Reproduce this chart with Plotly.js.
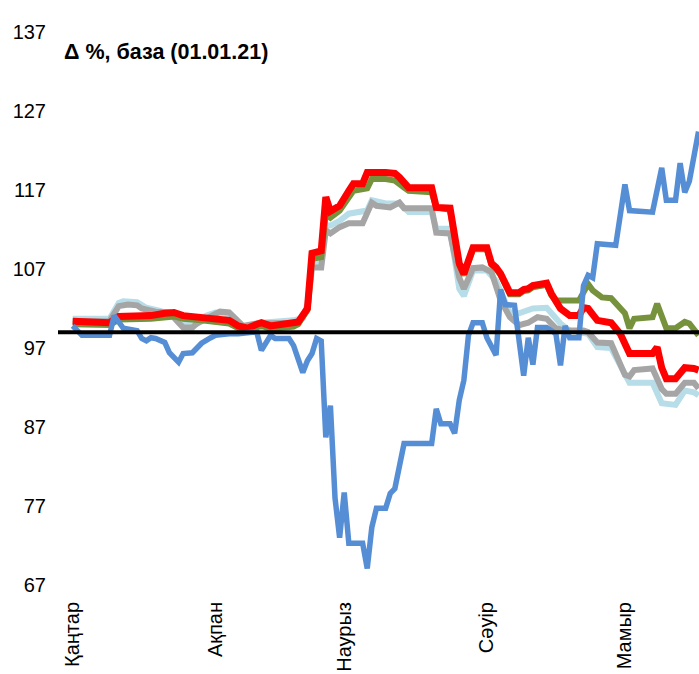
<!DOCTYPE html>
<html>
<head>
<meta charset="utf-8">
<script src="https://cdn.plot.ly/plotly-3.0.1.min.js"></script>
<style>html,body{margin:0;padding:0;background:#fff;}#chart{width:699px;height:674px;}</style>
</head>
<body>
<div id="chart"></div>
<script>
// x = days since 01.01.21
const monthTickDays = [0, 31, 59, 90, 120];
const monthLabels = ['Қаңтар', 'Ақпан', 'Наурыз', 'Сәуір', 'Мамыр'];
const baseLevel = 99;

const redDays = [0,8,10,17,20,22,24,28,34,36,38,40,41,43,48,49,51,52,54,55,56,58,60,61,63,64,68,70,71,73,78,79,82,84,85,87,90,91,92,93,95,97,98,99,100,103,104,105,106,108,110,111,112,114,117,119,121,126,127,128,129,131,133,135,136];
const redVals = [100.4,100.2,101.0,101.1,101.4,101.5,101.1,100.9,100.5,99.8,99.5,100.0,100.2,99.8,100.1,100.3,102.0,109.0,109.3,116.1,114.3,115.0,116.9,117.8,117.8,119.2,119.2,119.1,118.6,117.3,117.3,114.8,114.7,107.7,106.4,109.7,109.7,107.7,107.2,106.4,104.0,104.0,104.4,104.5,104.9,105.2,103.9,102.8,102.0,101.1,101.1,102.1,102.0,100.5,100.2,98.8,96.3,96.3,97.1,94.5,93.1,93.1,94.5,94.4,94.2];

const greenDays = [0,8,10,17,22,24,28,34,36,38,40,41,43,48,49,51,52,54,55,56,58,60,61,64,65,68,70,72,73,78,79,82,84,85,87,90,91,92,93,95,97,98,99,100,103,104,105,110,112,113,115,117,120,121,122,126,127,129,131,133,134,136];
const greenVals = [100.0,99.9,100.6,100.7,101.0,100.7,100.5,100.1,99.5,99.2,99.6,99.8,99.4,99.7,100.0,101.8,108.3,108.5,114.0,113.5,114.4,116.3,116.9,117.2,118.4,118.4,118.2,117.3,116.9,116.7,114.8,114.5,107.5,106.2,109.5,109.5,107.5,107.0,106.2,103.8,103.8,104.2,104.3,104.7,105.0,103.7,103.0,103.0,105.1,104.3,103.4,103.3,101.4,99.5,100.7,100.9,102.6,99.5,99.5,100.3,100.1,98.6];

const grayDays = [0,8,10,12,14,15,18,21,23,24,26,27,29,32,34,36,37,40,48,49,51,52,54,55,56,58,60,63,65,66,69,71,72,78,79,82,84,85,87,89,91,92,93,95,97,99,101,103,105,107,111,112,114,117,120,121,122,126,128,129,131,133,135,136];
const grayVals = [100.4,100.4,102.3,102.5,102.4,102.0,101.6,101.5,100.2,99.6,99.6,100.1,100.7,101.6,101.5,100.2,99.8,100.1,100.1,100.2,101.8,107.2,107.2,111.9,111.5,112.3,112.8,112.8,115.4,115.0,114.8,115.4,114.7,114.7,111.6,111.5,105.9,104.5,107.1,107.2,106.6,104.7,103.0,100.9,99.9,100.2,100.9,100.7,99.5,99.2,99.2,99.0,97.7,97.6,93.6,93.4,94.2,94.4,91.8,91.2,91.2,92.6,92.6,91.9];

const lightDays = [0,8,10,11,14,16,19,23,24,27,29,31,33,34,37,41,48,50,51,52,54,55,56,58,60,64,65,68,71,73,78,79,82,84,85,87,90,92,94,95,97,100,103,104,106,108,112,114,117,121,126,128,131,133,135,136];
const lightVals = [100.7,100.7,102.7,102.9,102.8,102.1,101.7,100.9,100.1,100.1,101.1,101.5,101.4,101.1,99.6,100.2,100.5,100.8,102.5,107.7,107.7,112.5,112.5,113.1,114.0,114.4,115.7,115.3,115.3,114.2,114.2,112.1,112.1,104.5,103.6,106.8,106.8,105.5,102.8,101.5,101.4,102.0,102.1,101.4,100.1,99.2,98.8,97.1,97.0,92.6,92.6,90.0,89.8,91.6,91.4,91.0];

const blueDays = [0,2,8,9,11,13,14,15,16,17,18,20,21,23,24,26,28,30,31,34,36,39,40,41,43,44,47,48,50,51,52,53,54,55,56,57,58,59,60,63,64,65,66,68,69,70,72,78,79,80,82,83,84,85,86,87,89,90,92,93,94,96,98,99,100,101,103,105,106,107,108,110,111,112,113,114,118,120,121,126,128,129,131,132,133,134,135,136];
const blueVals = [99.8,98.6,98.6,101.1,99.5,99.2,99.2,98.2,97.9,98.3,98.2,97.7,96.4,95.2,96.3,96.4,97.6,98.3,98.6,98.8,98.8,99.0,99.0,96.7,98.6,98.2,98.2,97.3,93.9,95.4,96.3,98.2,97.9,85.7,89.7,78.0,73.0,78.7,72.3,72.3,69.1,74.3,76.7,76.7,78.6,79.2,84.9,84.9,89.3,87.4,87.4,86.2,90.4,92.9,98.6,100.2,100.2,98.3,96.1,104.4,102.5,102.4,93.5,98.3,94.9,99.6,99.6,98.8,94.8,99.8,98.3,98.3,104.9,106.2,105.9,110.2,110.0,117.7,114.4,114.2,119.8,115.7,115.7,120.4,116.7,118.1,121.0,124.4];

function line(x, y, color, width) {
  return {x: x, y: y, type: 'scatter', mode: 'lines', hoverinfo: 'skip',
          line: {color: color, width: width, shape: 'linear'}};
}

const traces = [
  line(lightDays, lightVals, '#B7DDE8', 6),
  line(grayDays, grayVals, '#A5A5A5', 6),
  line(greenDays, greenVals, '#76923C', 6),
  line(redDays, redVals, '#FF0000', 7),
  line(blueDays, blueVals, '#558ED5', 5.5)
];

const layout = {
  width: 699, height: 674,
  margin: {l: 58, r: 0, t: 32, b: 89, pad: 0},
  paper_bgcolor: '#ffffff', plot_bgcolor: '#ffffff',
  showlegend: false,
  font: {family: 'Liberation Sans, Arial, sans-serif', size: 20, color: '#000'},
  xaxis: {
    range: [-3.2, 136.1], showgrid: false, zeroline: false, showline: false,
    tickmode: 'array', tickvals: monthTickDays, ticktext: monthLabels,
    tickangle: -90, ticks: 'outside', ticklen: 8, tickcolor: 'rgba(0,0,0,0)',
    tickfont: {family: 'Liberation Sans, Arial, sans-serif', size: 20, color: '#000'}
  },
  yaxis: {
    range: [67, 137], tick0: 67, dtick: 10, showgrid: false, zeroline: false, showline: false,
    ticks: 'outside', ticklen: 7, tickcolor: 'rgba(0,0,0,0)',
    tickfont: {family: 'Liberation Sans, Arial, sans-serif', size: 20, color: '#000'}
  },
  shapes: [{type: 'line', xref: 'paper', x0: 0, x1: 1, yref: 'y', y0: baseLevel, y1: baseLevel,
            line: {color: '#000', width: 4}, layer: 'above'}],
  annotations: [{text: '<b>Δ %, база (01.01.21)</b>', xref: 'paper', yref: 'paper',
                 x: 0.007, y: 0.964, xanchor: 'left', yanchor: 'middle', showarrow: false,
                 font: {family: 'Liberation Sans, Arial, sans-serif', size: 21.5, color: '#000'}}]
};

Plotly.newPlot('chart', traces, layout, {displayModeBar: false, staticPlot: true});
</script>
</body>
</html>
